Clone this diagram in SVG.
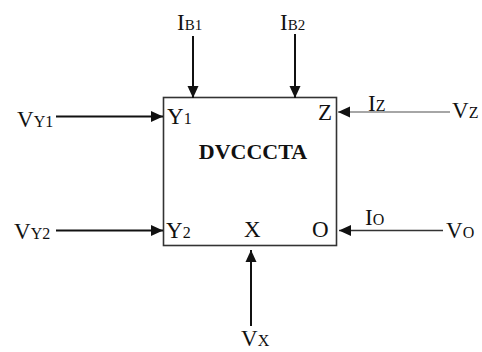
<svg xmlns="http://www.w3.org/2000/svg" width="482" height="352" viewBox="0 0 482 352">
<style>
text{font-family:"Liberation Serif","Times New Roman",serif;font-size:23px;fill:#111}
.s{font-size:16px}
.b{font-size:15px}
.t{font-weight:bold;font-size:22px}
.w{stroke:#111;stroke-width:2;fill:none}
.g{stroke:#888;stroke-width:1.4;fill:none}
.d{stroke:#333;stroke-width:1.6;fill:none}
</style>
<defs>
<marker id="ah" markerUnits="userSpaceOnUse" markerWidth="12" markerHeight="12" viewBox="0 0 12 12" refX="12" refY="6" orient="auto">
<path d="M0,0.5 L12,6 L0,11.5 Z" fill="#111"/>
</marker>
</defs>
<g id="block">
<rect x="163.5" y="97.5" width="173" height="148" fill="#fff" stroke="#333" stroke-width="1.6"/>
<text x="167" y="124">Y<tspan class="s">1</tspan></text>
<text x="318" y="120">Z</text>
<text x="253" y="159" text-anchor="middle" class="t">DVCCCTA</text>
<text x="166" y="238">Y<tspan class="s">2</tspan></text>
<text x="244" y="237">X</text>
<text x="312" y="237">O</text>
</g>
<g id="connectors">
<line class="w" x1="193" y1="36" x2="193" y2="98" marker-end="url(#ah)"/>
<line class="w" x1="295" y1="34" x2="295" y2="98" marker-end="url(#ah)"/>
<line class="w" x1="56" y1="116.5" x2="163" y2="116.5" marker-end="url(#ah)"/>
<line class="w" x1="56" y1="230.5" x2="163" y2="230.5" marker-end="url(#ah)"/>
<line class="g" x1="450" y1="112" x2="338" y2="112" marker-end="url(#ah)"/>
<line class="d" x1="443" y1="230.5" x2="339" y2="230.5" marker-end="url(#ah)"/>
<line class="w" x1="251" y1="326" x2="251" y2="250" marker-end="url(#ah)"/>
</g>
<g id="ib1"><text x="177" y="29.5">I<tspan class="b">B1</tspan></text></g>
<g id="ib2"><text x="280" y="29.5">I<tspan class="b">B2</tspan></text></g>
<g id="vy1"><text x="17" y="127">V<tspan class="s">Y1</tspan></text></g>
<g id="vy2"><text x="14" y="239">V<tspan class="s">Y2</tspan></text></g>
<g id="iz"><text x="368" y="110.5">I<tspan class="s">Z</tspan></text></g>
<g id="vz"><text x="452" y="118">V<tspan class="s">Z</tspan></text></g>
<g id="io"><text x="365" y="225">I<tspan class="s">O</tspan></text></g>
<g id="vo"><text x="446" y="238">V<tspan class="s">O</tspan></text></g>
<g id="vx"><text x="241" y="346">V<tspan class="s">X</tspan></text></g>
</svg>
